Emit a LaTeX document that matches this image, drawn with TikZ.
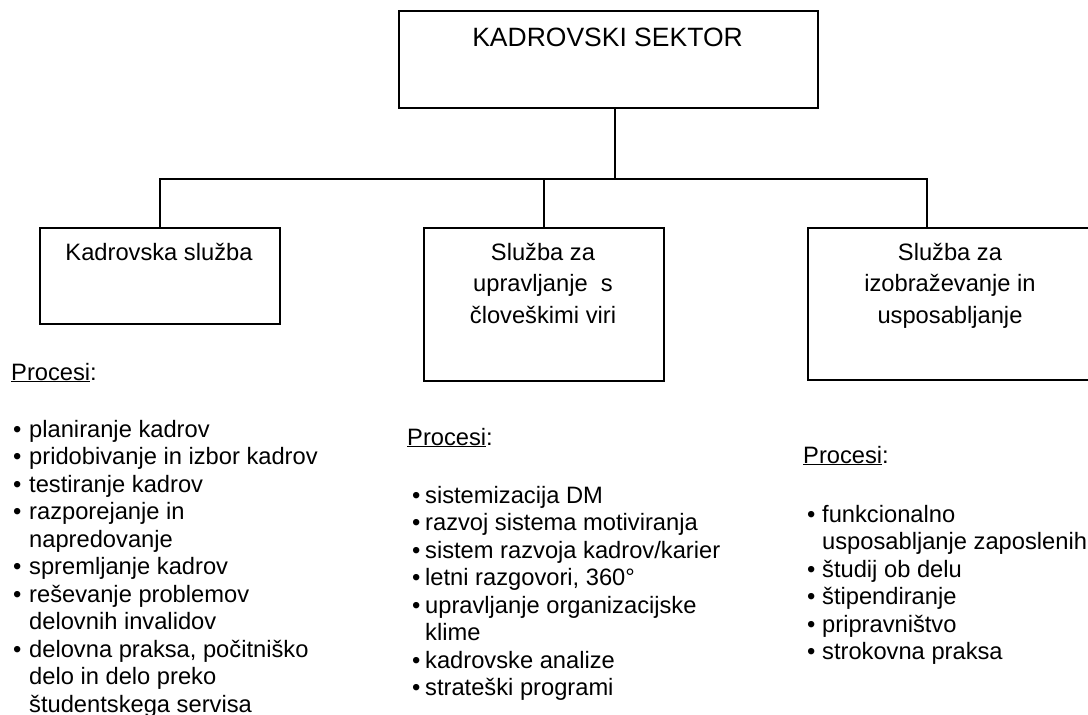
\documentclass[tikz,border=0pt]{standalone}
\usepackage{fontspec}
\setmainfont{Liberation Sans}
\usetikzlibrary{calc}
\newcommand\procul[1]{\setbox0\hbox{#1}\rlap{\rule[-2.4pt]{\wd0}{1.6pt}}\box0}
\newcommand\bul[1]{\makebox[#1][l]{•}}
\tikzset{
  unitbox/.style={draw, line width=1.5pt, inner sep=0pt, anchor=north west, rectangle},
  conn/.style={line width=1.5pt},
  titletxt/.style={inner sep=0pt, font=\fontsize{26.5pt}{31pt}\selectfont},
  boxtxt/.style={inner sep=0pt, font=\fontsize{23.7pt}{31.5pt}\selectfont},
  listtxt/.style={inner sep=0pt, anchor=base west, font=\fontsize{23.7pt}{27.5pt}\selectfont}
}
\begin{document}
\begin{tikzpicture}[x=1pt,y=-1pt]
\useasboundingbox (0,0) rectangle (1088,715);
\fill[white] (0,0) rectangle (1088,715);
\clip (0,0) rectangle (1088,715);
% boxes
\node[unitbox, minimum width=419pt, minimum height=97pt] (top) at (398,10) {};
\node[unitbox, minimum width=240pt, minimum height=96pt] (k1) at (39,227) {};
\node[unitbox, minimum width=240pt, minimum height=153pt] (k2) at (423,227) {};
\node[unitbox, minimum width=286pt, minimum height=152pt] (k3) at (807,227) {};
% box texts
\node[titletxt, anchor=base] (t0) at (607.5,46) {KADROVSKI SEKTOR};
\node[boxtxt, anchor=base] (t1) at (159,260) {Kadrovska služba};
\node[boxtxt, anchor=base] (t2) at (543,260) {\parbox[t]{240pt}{\centering Služba za\\upravljanje\ \ s\\človeškimi viri}};
\node[boxtxt, anchor=base] (t3) at (950,260) {\parbox[t]{280pt}{\centering Služba za\\izobraževanje in\\usposabljanje}};
% connectors
\coordinate (j) at (615,179);
\coordinate (r) at (927,179);
\draw[conn] (top.south -| j) -- (j);
\draw[conn] (k1.north) |- (r) -- (k3.north -| r);
\draw[conn] (k2.north) -- (k2.north |- j);
% process lists
\node[listtxt] (p1) at (11,380) {\procul{Procesi}:};
\node[listtxt] (l1) at (13,437) {\parbox[t]{340pt}{\raggedright
\bul{16pt}planiranje kadrov\\
\bul{16pt}pridobivanje in izbor kadrov\\
\bul{16pt}testiranje kadrov\\
\bul{16pt}razporejanje in\\
\hspace*{16pt}napredovanje\\
\bul{16pt}spremljanje kadrov\\
\bul{16pt}reševanje problemov\\
\hspace*{16pt}delovnih invalidov\\
\bul{16pt}delovna praksa, počitniško\\
\hspace*{16pt}delo in delo preko\\
\hspace*{16pt}študentskega servisa}};
\node[listtxt] (p2) at (407,445) {\procul{Procesi}:};
\node[listtxt] (l2) at (412,503) {\parbox[t]{340pt}{\raggedright
\bul{13pt}sistemizacija DM\\
\bul{13pt}razvoj sistema motiviranja\\
\bul{13pt}sistem razvoja kadrov/karier\\
\bul{13pt}letni razgovori, 360°\\
\bul{13pt}upravljanje organizacijske\\
\hspace*{13pt}klime\\
\bul{13pt}kadrovske analize\\
\bul{13pt}strateški programi}};
\node[listtxt] (p3) at (803,463) {\procul{Procesi}:};
\node[listtxt] (l3) at (807,522) {\parbox[t]{340pt}{\raggedright
\bul{15pt}funkcionalno\\
\hspace*{15pt}usposabljanje zaposlenih\\
\bul{15pt}študij ob delu\\
\bul{15pt}štipendiranje\\
\bul{15pt}pripravništvo\\
\bul{15pt}strokovna praksa}};
\end{tikzpicture}
\end{document}
